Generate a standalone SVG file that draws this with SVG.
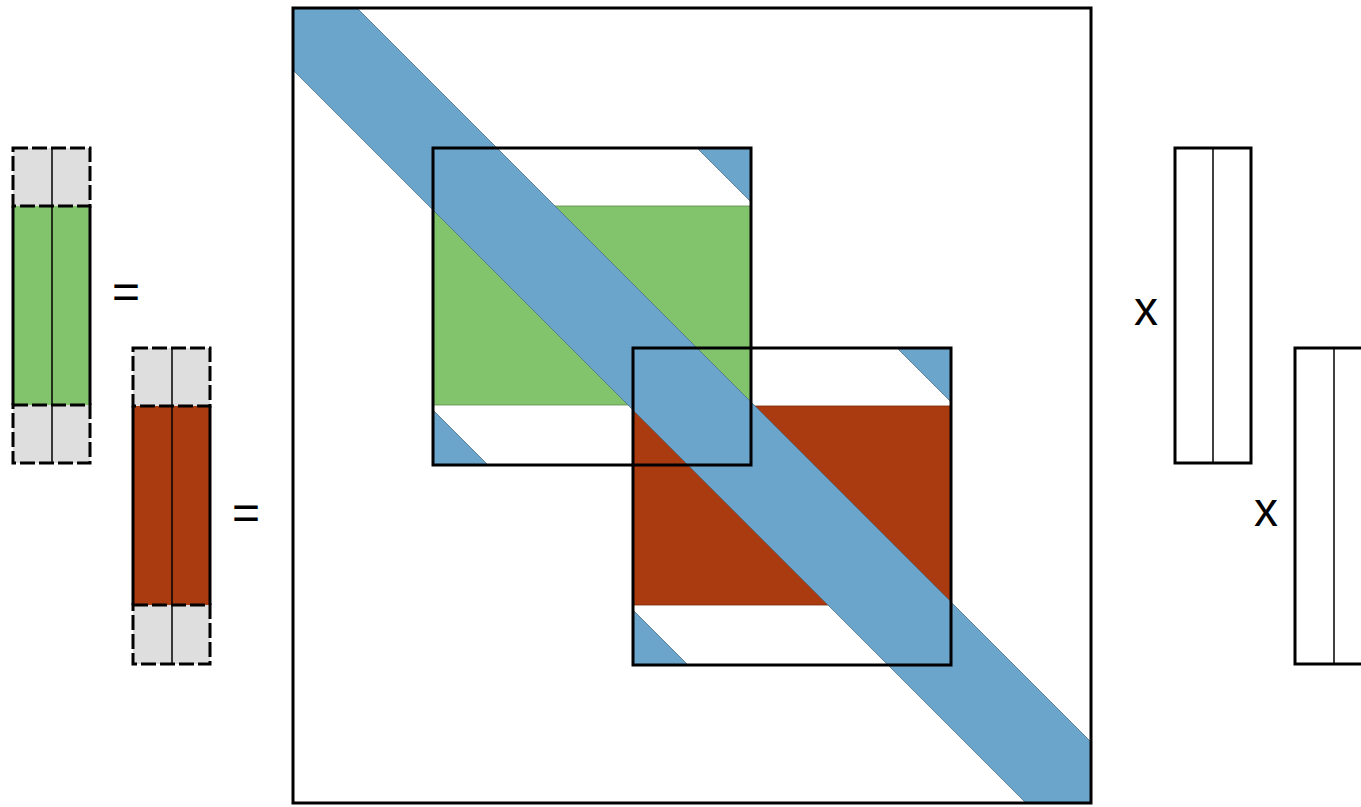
<svg xmlns="http://www.w3.org/2000/svg" width="1361" height="807" viewBox="0 0 1361 807">
<style>
.box{fill:none;stroke:#000;stroke-width:3}
.mid{stroke:#000;stroke-width:1.5}
.side{stroke:#000;stroke-width:3}
.blue{fill:#6BA5CB;stroke:#4d6f88;stroke-width:0.8}
.green{fill:#82C46C;stroke:#5d8a4e;stroke-width:0.8}
.red{fill:#AA3A10;stroke:#7a2a0b;stroke-width:0.8}
.grey{fill:#DEDEDE;stroke:#000;stroke-width:3;stroke-dasharray:15 4}
.sym{font-family:"Liberation Sans",Arial,sans-serif;font-size:48px;fill:#000;text-anchor:middle}
</style>
<rect width="1361" height="807" fill="#fff"/>
<g id="vec-green">
<rect x="13" y="206" width="77" height="199" fill="#82C46C"/>
<rect class="grey" x="13" y="148" width="77" height="58"/>
<rect class="grey" x="13" y="405" width="77" height="58"/>
<line class="side" x1="13" y1="206" x2="13" y2="405"/>
<line class="side" x1="90" y1="206" x2="90" y2="405"/>
<line class="mid" x1="52" y1="148" x2="52" y2="463"/>
</g>
<text id="eq1" class="sym" x="126" y="308">=</text>
<g id="vec-red">
<rect x="133" y="406" width="77" height="199" fill="#AA3A10"/>
<rect class="grey" x="133" y="348" width="77" height="58"/>
<rect class="grey" x="133" y="605" width="77" height="59"/>
<line class="side" x1="133" y1="406" x2="133" y2="605"/>
<line class="side" x1="210" y1="406" x2="210" y2="605"/>
<line class="mid" x1="172" y1="348" x2="172" y2="664"/>
</g>
<text id="eq2" class="sym" x="246" y="529">=</text>
<g id="matrix">
<rect class="green" x="433" y="206" width="318" height="199"/>
<rect class="red" x="633" y="406" width="318" height="199"/>
<polygon class="blue" points="293,8 357,8 1091,742 1091,803 1026,803 293,70"/>
<polygon class="blue" points="697,148 751,148 751,202"/>
<polygon class="blue" points="433,410 433,465 488,465"/>
<polygon class="blue" points="897,348 951,348 951,402"/>
<polygon class="blue" points="633,610 633,665 688,665"/>
<rect id="block-green" class="box" x="433" y="148" width="318" height="317"/>
<rect id="block-red" class="box" x="633" y="348" width="318" height="317"/>
<rect class="box" x="293" y="8" width="798" height="795"/>
</g>
<text id="x1" class="sym" x="1146" y="325">x</text>
<g id="vec-right1">
<rect class="box" x="1175" y="148" width="76" height="315"/>
<line class="mid" x1="1213" y1="148" x2="1213" y2="463"/>
</g>
<text id="x2" class="sym" x="1266" y="526">x</text>
<g id="vec-right2">
<rect class="box" x="1295" y="348" width="77" height="316"/>
<line class="mid" x1="1334" y1="348" x2="1334" y2="664"/>
</g>
</svg>
